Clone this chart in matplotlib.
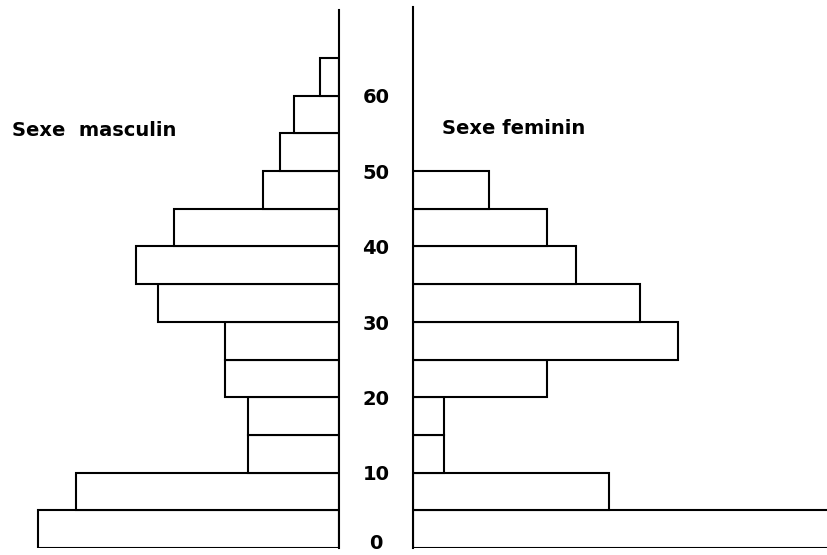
import numpy as np
import matplotlib
matplotlib.use('Agg')
import matplotlib.pyplot as plt
from matplotlib.transforms import blended_transform_factory

# age groups (lower bound, 5-year classes), shares in percent
ages = [0, 5, 10, 15, 20, 25, 30, 35, 40, 45, 50, 55, 60]
male = [17.5, 15.3, 5.3, 5.3, 6.6, 6.6, 10.5, 11.8, 9.6, 4.4, 3.4, 2.6, 1.1]
female = [26.9, 11.4, 1.8, 1.8, 7.8, 15.4, 13.2, 9.5, 7.8, 4.4, 0, 0, 0]
age_ticks = [0, 10, 20, 30, 40, 50, 60]

W, H = 827, 555
fig = plt.figure(figsize=(W / 100, H / 100), dpi=100)

px = 17.21  # pixels per percent
y0, y_top = 548, 10
top_age = (y0 - y_top) / (490 / 65)

ax_m = fig.add_axes([0, (H - y0) / H, 339 / W, (y0 - y_top) / H])
ax_f = fig.add_axes([413 / W, (H - y0) / H, (W - 413) / W, (y0 - 7) / H])

lw = 1.5
ax_m.barh(ages, male, height=5, align='edge', facecolor='white',
          edgecolor='black', linewidth=lw)
ax_m.set_xlim(339 / px, 0)
ax_m.set_ylim(0, top_age)

keep = [i for i, v in enumerate(female) if v > 0]
ax_f.barh([ages[i] for i in keep], [female[i] for i in keep], height=5,
          align='edge', facecolor='white', edgecolor='black', linewidth=lw)
ax_f.set_xlim(0, (W - 413) / px)
ax_f.set_ylim(0, (y0 - 7) / (490 / 65))

for ax in (ax_m, ax_f):
    ax.set_xticks([])
    ax.set_yticks([])
    for s in ('top', 'bottom'):
        ax.spines[s].set_visible(False)
    ax.patch.set_alpha(0)
ax_m.spines['left'].set_visible(False)
ax_m.spines['right'].set_linewidth(lw)
ax_f.spines['right'].set_visible(False)
ax_f.spines['left'].set_linewidth(lw)

tr = blended_transform_factory(fig.transFigure, ax_m.transData)
for a in age_ticks:
    ya = 0.55 if a == 0 else a - 0.3
    ax_m.text(376 / W, ya, str(a), transform=tr, ha='center', va='center',
              fontsize=14, fontweight='bold', clip_on=False)

fig.text(12 / W, 1 - 130 / H, 'Sexe  masculin', ha='left', va='center',
         fontsize=14, fontweight='bold')
fig.text(442 / W, 1 - 128 / H, 'Sexe feminin', ha='left', va='center',
         fontsize=14, fontweight='bold')

fig.savefig('out.png', dpi=100)
